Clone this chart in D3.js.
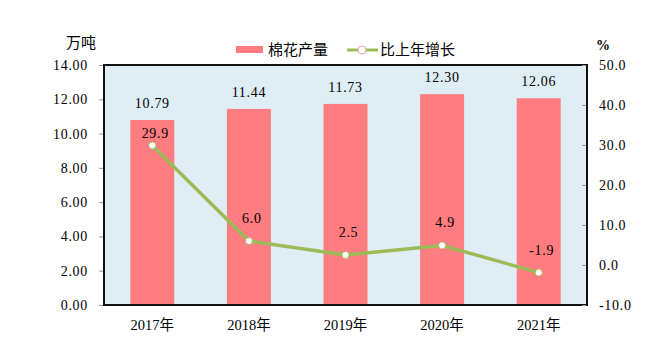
<!DOCTYPE html>
<html><head><meta charset="utf-8">
<script src="https://cdn.jsdelivr.net/npm/d3@7"></script>
<style>body{margin:0;background:#fff}svg{display:block}
text{font-family:"Liberation Serif","Noto Sans CJK SC",serif;fill:#000}
.num{letter-spacing:0.7px}</style>
</head><body><svg id="c" width="651" height="360"></svg>
<script>
const categories = ["2017年","2018年","2019年","2020年","2021年"];
const production = [10.79, 11.44, 11.73, 12.30, 12.06];
const growth = [29.9, 6.0, 2.5, 4.9, -1.9];
const leftTicks = [0, 2, 4, 6, 8, 10, 12, 14];
const rightTicks = [-10, 0, 10, 20, 30, 40, 50];
const seriesNames = ["棉花产量", "比上年增长"];

const svg = d3.select("#c");
const L = 104, R = 587, T = 65, B = 305;
const x = d3.scaleBand().domain(categories).range([L, R]).paddingInner(0.545).paddingOuter(0.2725);
const yL = d3.scaleLinear().domain([0, 14]).range([B, T]);
const yR = d3.scaleLinear().domain([-10, 50]).range([B, T]);
const fs = "14px";

svg.append("rect").attr("x", L).attr("y", T).attr("width", R - L).attr("height", B - T)
  .attr("fill", "#DFEEF4");

svg.selectAll("rect.bar").data(production).join("rect").attr("class", "bar")
  .attr("x", (d, i) => x(categories[i])).attr("width", x.bandwidth())
  .attr("y", d => yL(d)).attr("height", d => B - yL(d)).attr("fill", "#FF7C80");

svg.append("rect").attr("x", L).attr("y", T).attr("width", R - L).attr("height", B - T)
  .attr("fill", "none").attr("stroke", "#111").attr("stroke-width", 2);

const cx = i => x(categories[i]) + x.bandwidth() / 2;
svg.selectAll("text.bl").data(production).join("text").attr("class", "bl num")
  .attr("x", (d, i) => cx(i)).attr("y", d => yL(d) - 12).attr("text-anchor", "middle")
  .style("font-size", fs).text(d => d.toFixed(2));

const line = d3.line().x((d, i) => cx(i)).y(d => yR(d));
svg.append("path").datum(growth).attr("d", line).attr("fill", "none")
  .attr("stroke", "#9BBB59").attr("stroke-width", 3.5).attr("stroke-linejoin", "round");
svg.selectAll("circle.pt").data(growth).join("circle").attr("class", "pt")
  .attr("cx", (d, i) => cx(i)).attr("cy", d => yR(d)).attr("r", 3.5)
  .attr("fill", "#fff").attr("stroke", "#9BBB59").attr("stroke-width", 0.8);
svg.selectAll("text.gl").data(growth).join("text").attr("class", "gl num")
  .attr("x", (d, i) => cx(i) + 3).attr("y", (d, i) => yR(d) - (i === 0 ? 7 : 18))
  .attr("text-anchor", "middle").style("font-size", fs)
  .text(d => d.toFixed(1));

// axes
const axL = svg.append("g").attr("transform", `translate(${L - 1},0)`)
  .call(d3.axisLeft(yL).tickValues(leftTicks).tickSize(4).tickFormat(d => d.toFixed(2)));
const axR = svg.append("g").attr("transform", `translate(${R - 1},0)`)
  .call(d3.axisLeft(yR).tickValues(rightTicks).tickSize(4).tickFormat(d => d.toFixed(1)));
[axL, axR].forEach(a => { a.select(".domain").remove(); a.selectAll("line").attr("stroke", "#999"); a.attr("font-family", null); a.selectAll("text").attr("class", "num"); });
axL.selectAll("text").attr("x", -15).style("font-size", fs);
axR.selectAll("text").attr("x", 13).attr("text-anchor", "start").style("font-size", fs);

svg.selectAll("text.xl").data(categories).join("text").attr("class", "xl")
  .attr("x", d => x(d) + x.bandwidth() / 2).attr("y", 330).attr("text-anchor", "middle")
  .style("font-size", "14.5px").text(d => d);

svg.append("text").attr("x", 81).attr("y", 48).attr("text-anchor", "middle").style("font-size", "15px").text("万吨");
svg.append("text").attr("x", 603).attr("y", 50).attr("text-anchor", "middle").style("font-size", "14px").style("font-weight", "bold").text("%");

// legend
svg.append("rect").attr("x", 236).attr("y", 46).attr("width", 27).attr("height", 7).attr("fill", "#FF7C80");
svg.append("text").attr("x", 268).attr("y", 55).style("font-size", "15px").text(seriesNames[0]);
svg.append("line").attr("x1", 347).attr("x2", 378).attr("y1", 50).attr("y2", 50).attr("stroke", "#9BBB59").attr("stroke-width", 3);
svg.append("circle").attr("cx", 362).attr("cy", 50).attr("r", 4).attr("fill", "#fff").attr("stroke", "#F4A4A4").attr("stroke-width", 1);
svg.append("text").attr("x", 380).attr("y", 55).style("font-size", "15px").text(seriesNames[1]);
</script></body></html>
